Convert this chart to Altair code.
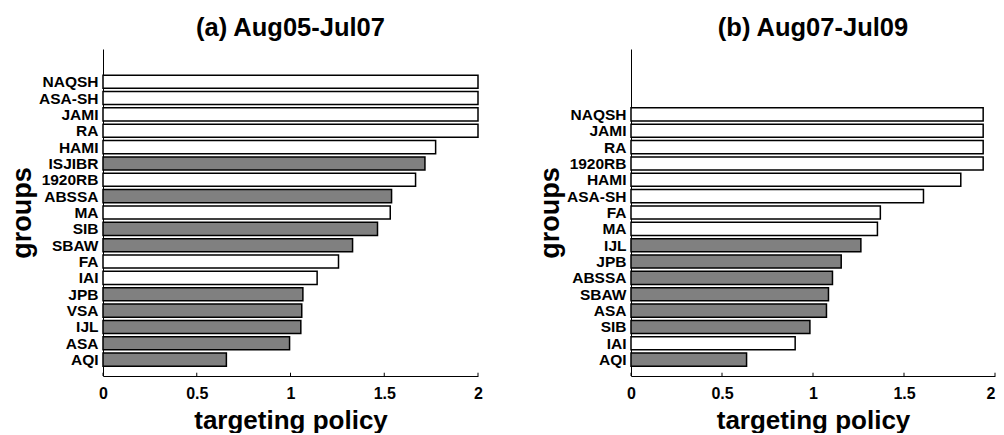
import json
import altair as alt
import pandas as pd

# ---- data ----
groups_a = ["NAQSH", "ASA-SH", "JAMI", "RA", "HAMI", "ISJIBR", "1920RB", "ABSSA", "MA",
            "SIB", "SBAW", "FA", "IAI", "JPB", "VSA", "IJL", "ASA", "AQI"]
values_a = [2.0, 2.0, 2.0, 2.0, 1.774, 1.717, 1.667, 1.539, 1.532,
            1.464, 1.331, 1.256, 1.142, 1.066, 1.060, 1.055, 0.995, 0.658]
shade_a = ["white", "white", "white", "white", "white", "gray", "white", "gray", "white",
           "gray", "gray", "white", "white", "gray", "gray", "gray", "gray", "gray"]

groups_b = ["NAQSH", "JAMI", "RA", "1920RB", "HAMI", "ASA-SH", "FA", "MA",
            "IJL", "JPB", "ABSSA", "SBAW", "ASA", "SIB", "IAI", "AQI"]
values_b = [1.935, 1.935, 1.935, 1.935, 1.812, 1.607, 1.370, 1.354,
            1.263, 1.155, 1.107, 1.085, 1.074, 0.983, 0.902, 0.635]
shade_b = ["white", "white", "white", "white", "white", "white", "white", "white",
           "gray", "gray", "gray", "gray", "gray", "gray", "white", "gray"]

x_ticks = [0, 0.5, 1, 1.5, 2]
x_domain = [0, 2]
y_domain = [0, 20]

titles = ["(a) Aug05-Jul07", "(b) Aug07-Jul09"]
FONT = "Liberation Sans"
HEIGHT = 327


def panel(title, groups, values, shade, width, last_label_align):
    n = len(groups)
    df = pd.DataFrame({"group": groups, "value": values, "shade": shade})
    df["pos"] = [n - i for i in range(n)]
    df["zero"] = 0
    label_expr = json.dumps(list(reversed(groups))) + "[datum.value - 1]"

    xs = alt.Scale(domain=x_domain, nice=False, zero=True)
    ys = alt.Scale(domain=y_domain, nice=False, zero=True)

    x_axis = alt.Axis(values=x_ticks, format="~g", title="targeting policy", grid=False,
                      ticks=False, tickSize=0, domainColor="black", domainWidth=1,
                      labelFont=FONT, labelFontSize=16, labelFontWeight="bold",
                      labelColor="black", labelPadding=9, labelFlush=False,
                      labelOverlap=False,
                      labelAlign={"expr": "datum.value == 2 ? '%s' : 'center'" % last_label_align},
                      titleFont=FONT, titleFontSize=26, titleFontWeight="bold",
                      titleColor="black", titlePadding=6)
    y_axis = alt.Axis(values=list(range(1, n + 1)), labelExpr=label_expr, title="groups",
                      grid=False, ticks=False, tickSize=0, domainColor="black",
                      domainWidth=1, labelFont=FONT, labelFontSize=15.5,
                      labelFontWeight="bold", labelColor="black", labelPadding=5,
                      labelOverlap=False, labelBound=False,
                      titleFont=FONT, titleFontSize=27, titleFontWeight="bold",
                      titleColor="black", titleAngle=270, titleAlign="center",
                      titleBaseline="middle", titleX=-81, titleY=HEIGHT / 2)

    bars = alt.Chart(df).transform_calculate(
        y0="datum.pos - 0.4", y1="datum.pos + 0.4"
    ).mark_rect(stroke="black", strokeWidth=1.5).encode(
        x=alt.X("zero:Q", scale=xs, axis=x_axis),
        x2="value:Q",
        y=alt.Y("y0:Q", scale=ys, axis=y_axis),
        y2="y1:Q",
        fill=alt.Fill("shade:N",
                      scale=alt.Scale(domain=["gray", "white"], range=["#808080", "#ffffff"]),
                      legend=None),
    )

    tick_df = pd.DataFrame({"t": x_ticks})
    ticks = alt.Chart(tick_df).mark_rule(color="black", strokeWidth=1).encode(
        x=alt.X("t:Q", scale=xs, axis=x_axis),
        y=alt.Y(datum=0, scale=ys, axis=y_axis),
        y2=alt.datum(0.2),
    )

    return alt.layer(bars, ticks).properties(
        width=width, height=HEIGHT,
        title=alt.TitleParams(title, font=FONT, fontSize=25.5, fontWeight="bold",
                              color="black", anchor="middle", frame="group",
                              baseline="alphabetic", offset=-12),
    )


left = panel(titles[0], groups_a, values_a, shade_a, 375, "center")
right = panel(titles[1], groups_b, values_b, shade_b, 364, "right")

chart = alt.hconcat(left, right, spacing=53).properties(
    padding={"left": 0, "top": 7, "right": 0, "bottom": 0}
).configure_view(stroke=None).configure_concat(spacing=53).configure_axis(labelOverlap=False)

chart.save("out.html", embed_options={"renderer": "svg", "actions": False})
